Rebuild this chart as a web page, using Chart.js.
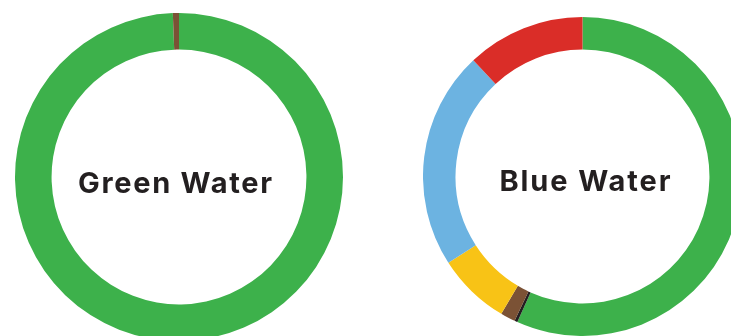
<!DOCTYPE html>
<html>
<head>
<meta charset="utf-8">
<script src="https://cdn.jsdelivr.net/npm/chart.js@4"></script>
<style>
  html, body { margin: 0; padding: 0; background: #fff; overflow: hidden; }
  body { width: 731px; height: 336px; position: relative; }
  .ring { position: absolute; }
  .label {
    position: absolute; white-space: nowrap;
    font-family: "Inter", "Open Sans", sans-serif; font-weight: 700; font-size: 29px;
    color: #231f20; line-height: 1; transform: translate(-50%, -50%);
  }
</style>
</head>
<body>
<div class="ring" style="left:15px; top:13px; width:328px; height:328px;"><canvas id="greenChart"></canvas></div>
<div class="ring" style="left:423px; top:17px; width:319px; height:319px;"><canvas id="blueChart"></canvas></div>
<div class="label" id="greenLabel" data-w="194" style="left:175px; top:182px;">Green Water</div>
<div class="label" id="blueLabel" data-w="171" style="left:585px; top:180px;">Blue Water</div>

<script>
// 데이터 (percent of footprint)
let greenLabels = ['Green', 'Brown'];
let greenValues = [99.4, 0.6];
let greenColors = ['#3db14b', '#7b5235'];

let blueLabels = ['Green', 'Dark', 'Brown', 'Yellow', 'Blue', 'Red'];
let blueValues = [56.7, 0.3, 1.5, 7.4, 22.1, 12.0];
let blueColors = ['#3db14b', '#231f20', '#7b5235', '#f8c316', '#6cb3e1', '#da2d28'];

// 도넛 설정 만들기
function makeConfig(labels, values, colors, cutout) {
    return {
        type: 'doughnut',
        data: {
            labels: labels,
            datasets: [{
                data: values,
                backgroundColor: colors,
                borderWidth: 0,
                hoverOffset: 0
            }]
        },
        options: {
            responsive: true,
            maintainAspectRatio: false,
            animation: false,
            events: [],
            cutout: cutout,
            plugins: {
                legend: { display: false },
                tooltip: { enabled: false }
            }
        }
    };
}

new Chart(document.getElementById('greenChart'), makeConfig(greenLabels, greenValues, greenColors, '77.7%'));
new Chart(document.getElementById('blueChart'), makeConfig(blueLabels, blueValues, blueColors, '79.6%'));

// 가운데 글자 폭 맞추기 (letter-spacing, 뒤쪽 여백은 앞쪽 padding으로 균형)
document.querySelectorAll('.label').forEach(function (el) {
    let target = Number(el.dataset.w);
    let n = el.textContent.length;
    let w = el.getBoundingClientRect().width;
    let s = (target - w) / (n - 1);
    el.style.letterSpacing = s + 'px';
    el.style.paddingLeft = s + 'px';
});
</script>
</body>
</html>
